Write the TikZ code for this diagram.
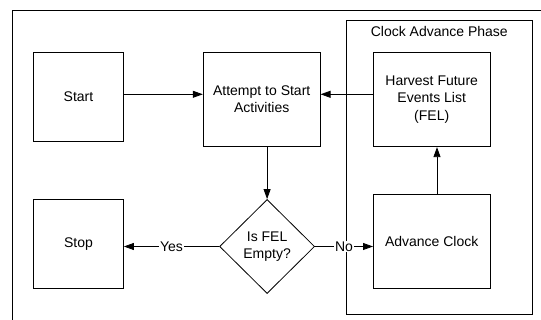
\documentclass[tikz,border=0pt]{standalone}
\usepackage{fontspec}
\setmainfont{Liberation Sans}
\usetikzlibrary{shapes.geometric,arrows.meta}
\begin{document}
\begin{tikzpicture}[x=1pt,y=-1pt,
  line width=0.8pt,
  every node/.style={font=\fontsize{14}{17.2}\selectfont, align=center, inner sep=0pt},
  procbox/.style={draw, rectangle},
  decision/.style={draw, diamond, aspect=1, minimum width=95pt, minimum height=94pt},
  arr/.style={-{Triangle[length=10pt,width=7pt]}},
  edgelabel/.style={fill=white, inner sep=1pt}]
  \useasboundingbox (0,0) rectangle (541,320);
  \clip (0,0) rectangle (541,320);

  % outer frame (runs past the right and bottom edges)
  \draw (12.4,10.3) rectangle (570,340);

  % clock advance phase group
  \draw (346.8,20.7) rectangle (532.4,314.3);
  \node (phase) at (439.3,31) {Clock Advance Phase};

  % process boxes
  \node[procbox, minimum width=90pt, minimum height=89pt] (start) at (78.5,96.8) {Start};
  \node[procbox, minimum width=117pt, minimum height=94.4pt] (attempt) at (261.7,99.5) {Attempt to Start\\Activities};
  \node[procbox, minimum width=116.6pt, minimum height=94.4pt] (harvest) at (431.7,99.5) {Harvest Future\\Events List\\(FEL)};
  \node[procbox, minimum width=116.6pt, minimum height=94.3pt] (advance) at (431.7,241.2) {Advance Clock};
  \node[procbox, minimum width=90pt, minimum height=89pt] (stop) at (78.5,243.8) {Stop};
  \node[decision] (isempty) at (267.1,246.5) {Is FEL\\Empty?};

  % connectors
  \coordinate (row) at (0,94.3);
  \draw[arr] (start.east |- row) -- (attempt.west |- row);
  \draw[arr] (harvest.west |- row) -- (attempt.east |- row);
  \draw[arr] (attempt.south -| isempty.north) -- (isempty.north);
  \draw[arr] (isempty.west) -- node[edgelabel] {Yes} (isempty.west -| stop.east);
  \draw[arr] (isempty.east) -- node[edgelabel] {No} (isempty.east -| advance.west);
  \coordinate (col) at (437,0);
  \draw[arr] (advance.north -| col) -- (harvest.south -| col);
\end{tikzpicture}
\end{document}
